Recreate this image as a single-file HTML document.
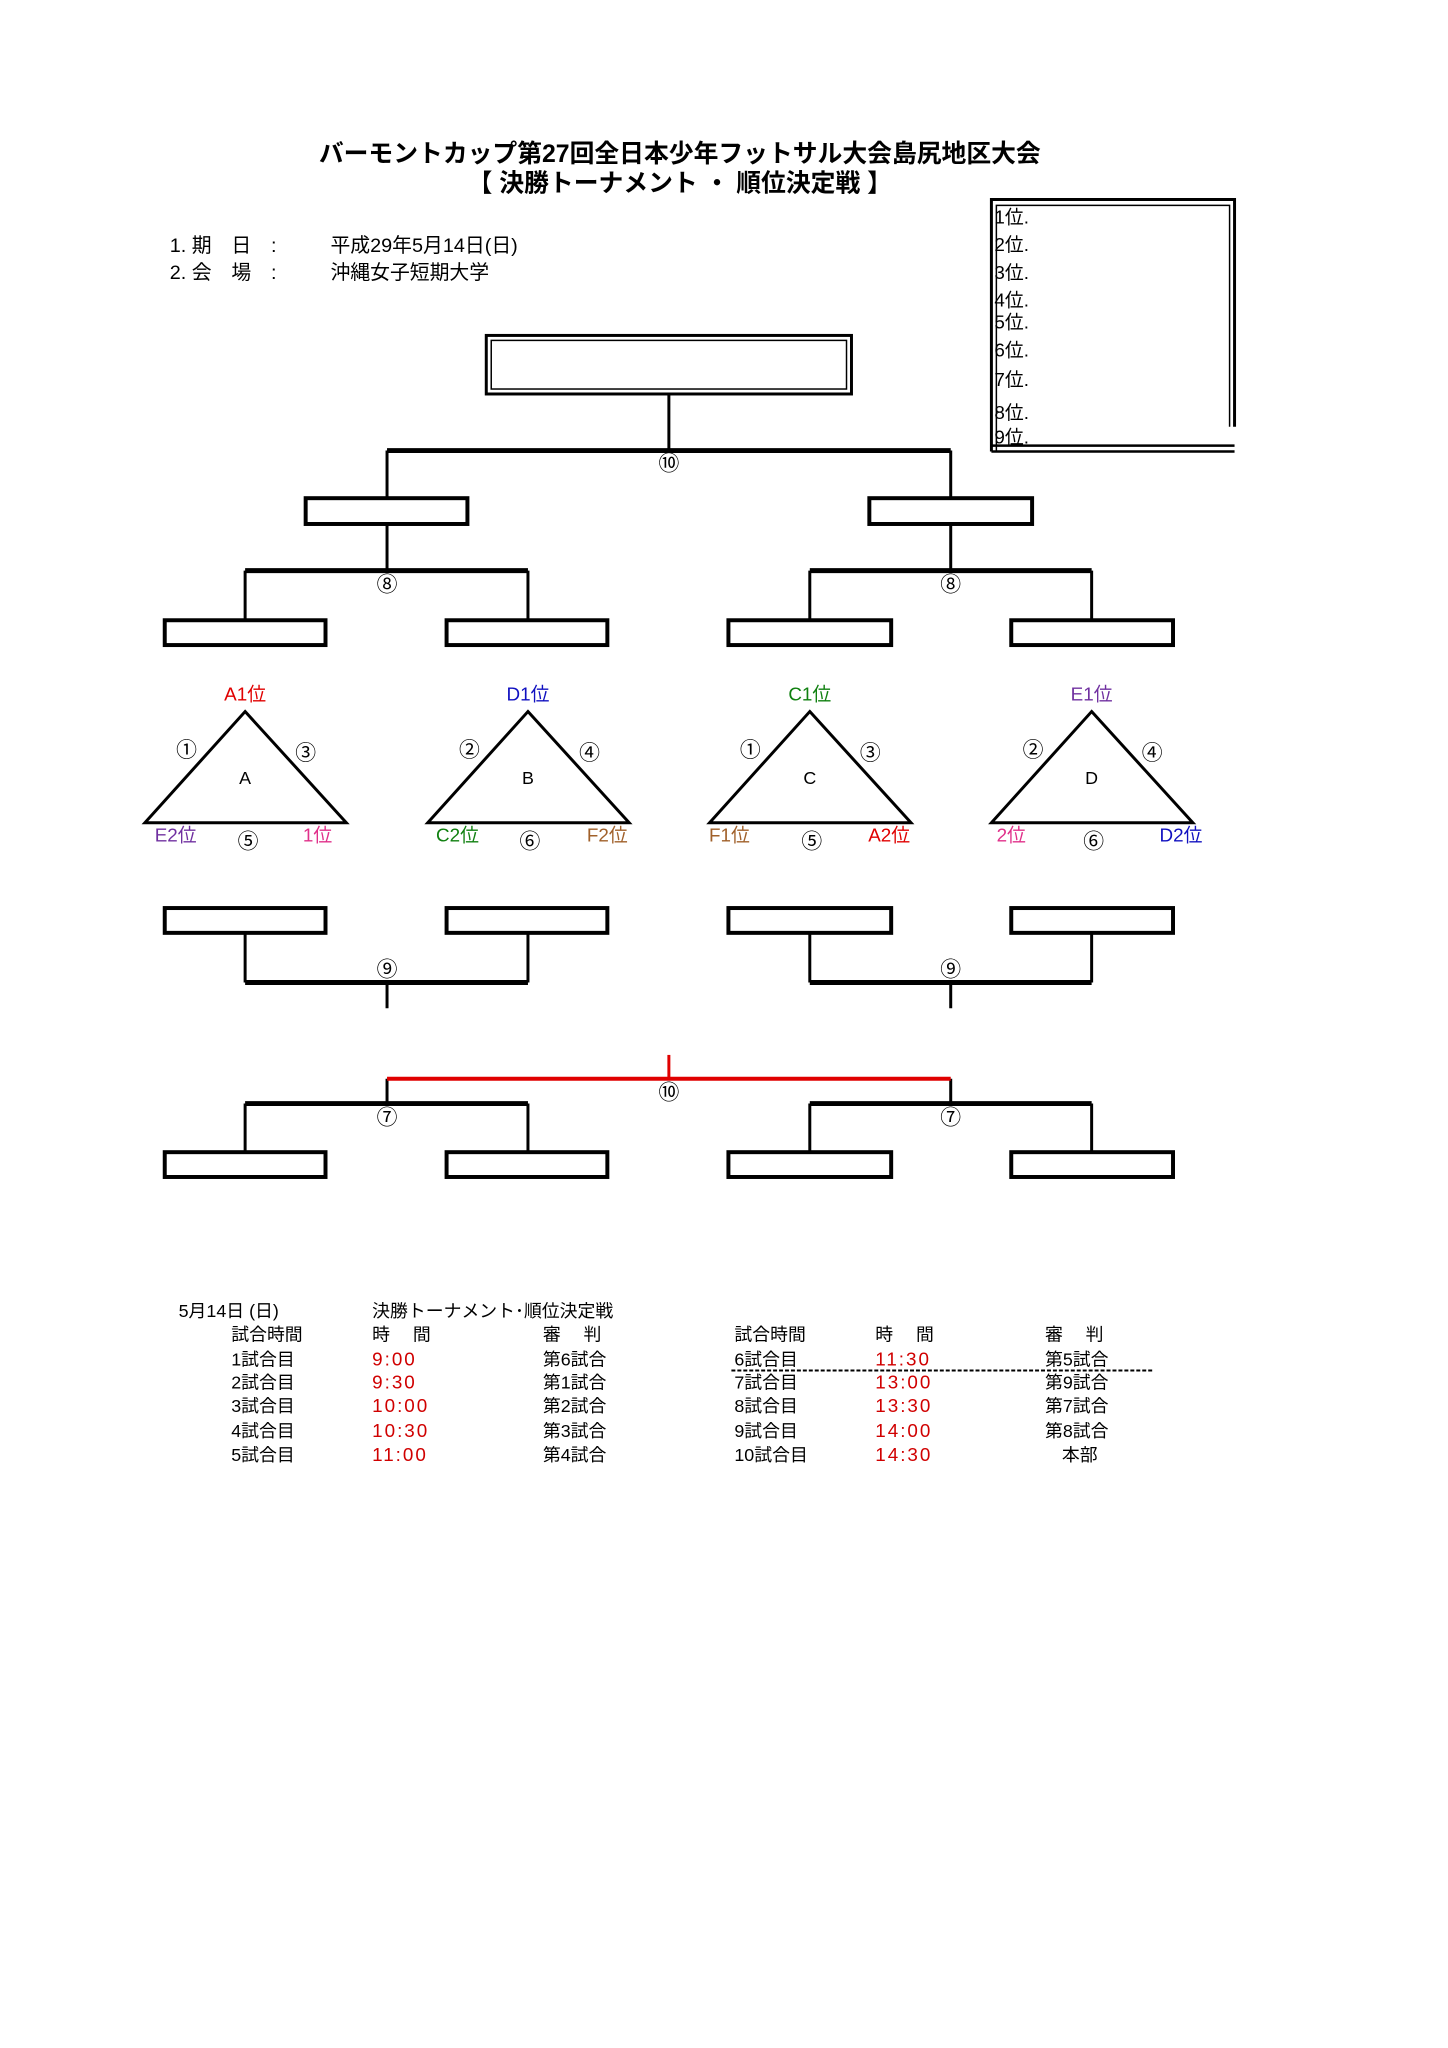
<!DOCTYPE html>
<html><head><meta charset="utf-8"><style>
html,body{margin:0;padding:0;background:#fff;}
svg{display:block;}
text{font-family:"Liberation Sans","Noto Sans CJK JP",sans-serif;}
</style></head><body>
<svg width="1448" height="2048" viewBox="0 0 1448 2048" xmlns="http://www.w3.org/2000/svg">
<g transform="scale(0.9924)">
<g font-size="25" text-anchor="middle" fill="#000" font-weight="bold">
<text x="685" y="163">バーモントカップ第27回全日本少年フットサル大会島尻地区大会</text>
<text x="685" y="193">【 決勝トーナメント ・ 順位決定戦 】</text>
</g>
<g font-size="20" fill="#000">
<text x="171" y="254">1. 期　日　:</text>
<text x="333" y="254">平成29年5月14日(日)</text>
<text x="171" y="281">2. 会　場　:</text>
<text x="333" y="281">沖縄女子短期大学</text>
</g>
<g fill="none" stroke="#000">
<path d="M999 455 V201 H1244 V430" stroke-width="3"/>
<path d="M1004 455 V207 H1239 V430" stroke-width="1.5"/>
<path d="M999 449 H1244 M999 455 H1244" stroke-width="2.5"/>
</g>
<g font-size="19" fill="#000">
<text x="1002" y="225">1位.</text><text x="1002" y="253">2位.</text><text x="1002" y="281">3位.</text>
<text x="1002" y="309">4位.</text><text x="1002" y="331">5位.</text><text x="1002" y="359">6位.</text>
<text x="1002" y="389">7位.</text><text x="1002" y="422">8位.</text><text x="1002" y="447">9位.</text>
</g>
<rect x="490" y="338" width="368" height="59" fill="none" stroke="#000" stroke-width="3"/>
<rect x="495" y="343" width="358" height="49" fill="none" stroke="#000" stroke-width="1.5"/>
<g fill="none" stroke="#000" stroke-width="3">
<path d="M674 397 V454"/>
<path d="M390 454 H958" stroke-width="5"/>
<path d="M390 454 V501 M958 454 V501"/>
<rect x="308" y="502" width="163" height="26" stroke-width="4"/>
<rect x="876" y="502" width="164" height="26" stroke-width="4"/>
<path d="M390 528 V575 M958 528 V575"/>
<path d="M247 575 H532 M816 575 H1100" stroke-width="5"/>
<path d="M247 575 V624 M532 575 V624 M816 575 V624 M1100 575 V624"/>
<rect x="166" y="625" width="162" height="25" stroke-width="4"/>
<rect x="450" y="625" width="162" height="25" stroke-width="4"/>
<rect x="734" y="625" width="164" height="25" stroke-width="4"/>
<rect x="1019" y="625" width="163" height="25" stroke-width="4"/>
<path d="M247 717 L349 829 H146 Z"/>
<path d="M532 717 L634 829 H431 Z"/>
<path d="M816 717 L918 829 H715 Z"/>
<path d="M1100 717 L1202 829 H999 Z"/>
<rect x="166" y="915" width="162" height="25" stroke-width="4"/>
<rect x="450" y="915" width="162" height="25" stroke-width="4"/>
<rect x="734" y="915" width="164" height="25" stroke-width="4"/>
<rect x="1019" y="915" width="163" height="25" stroke-width="4"/>
<path d="M247 940 V990 M532 940 V990 M816 940 V990 M1100 940 V990"/>
<path d="M247 990 H532 M816 990 H1100" stroke-width="5"/>
<path d="M390 990 V1016 M958 990 V1016"/>
<path d="M390 1087 V1112 M958 1087 V1112"/>
<path d="M247 1112 H532 M816 1112 H1100" stroke-width="5"/>
<path d="M247 1112 V1161 M532 1112 V1161 M816 1112 V1161 M1100 1112 V1161"/>
<rect x="166" y="1161" width="162" height="25" stroke-width="4"/>
<rect x="450" y="1161" width="162" height="25" stroke-width="4"/>
<rect x="734" y="1161" width="164" height="25" stroke-width="4"/>
<rect x="1019" y="1161" width="163" height="25" stroke-width="4"/>
</g>
<g stroke="#e00000" fill="none">
<path d="M674 1063 V1087" stroke-width="3"/>
<path d="M390 1087 H958" stroke-width="4"/>
</g>
<g font-size="21" text-anchor="middle" fill="#000">
<text x="674" y="474">⑩</text>
<text x="390" y="596">⑧</text><text x="958" y="596">⑧</text>
<text x="390" y="984">⑨</text><text x="958" y="984">⑨</text>
<text x="674" y="1108">⑩</text>
<text x="390" y="1133">⑦</text><text x="958" y="1133">⑦</text>
<text x="188" y="763">①</text><text x="308" y="766">③</text><text x="250" y="855">⑤</text><text x="247" y="790" font-size="18">A</text>
<text x="473" y="763">②</text><text x="594" y="766">④</text><text x="534" y="855">⑥</text><text x="532" y="790" font-size="18">B</text>
<text x="756" y="763">①</text><text x="877" y="766">③</text><text x="818" y="855">⑤</text><text x="816" y="790" font-size="18">C</text>
<text x="1041" y="763">②</text><text x="1161" y="766">④</text><text x="1102" y="855">⑥</text><text x="1100" y="790" font-size="18">D</text>
</g>
<g font-size="19" text-anchor="middle">
<text x="247" y="706" fill="#e00000">A1位</text>
<text x="532" y="706" fill="#1010c0">D1位</text>
<text x="816" y="706" fill="#108010">C1位</text>
<text x="1100" y="706" fill="#7030a0">E1位</text>
<text x="177" y="848" fill="#7030a0">E2位</text>
<text x="320" y="848" fill="#e0308a">1位</text>
<text x="461" y="848" fill="#108010">C2位</text>
<text x="612" y="848" fill="#a0602a">F2位</text>
<text x="735" y="848" fill="#a0602a">F1位</text>
<text x="896" y="848" fill="#e00000">A2位</text>
<text x="1019" y="848" fill="#e0308a">2位</text>
<text x="1190" y="848" fill="#1010c0">D2位</text>
</g>
<g font-size="18" fill="#000">
<text x="180" y="1327">5月14日 (日)</text>
<text x="375" y="1327">決勝トーナメント･順位決定戦</text>
<text x="233" y="1351">試合時間</text><text x="375" y="1351">時　 間</text><text x="547" y="1351">審　 判</text>
<text x="740" y="1351">試合時間</text><text x="882" y="1351">時　 間</text><text x="1053" y="1351">審　 判</text>
<text x="233" y="1376">1試合目</text><text x="547" y="1376">第6試合</text>
<text x="233" y="1399">2試合目</text><text x="547" y="1399">第1試合</text>
<text x="233" y="1423">3試合目</text><text x="547" y="1423">第2試合</text>
<text x="233" y="1448">4試合目</text><text x="547" y="1448">第3試合</text>
<text x="233" y="1472">5試合目</text><text x="547" y="1472">第4試合</text>
<text x="740" y="1376">6試合目</text><text x="1053" y="1376">第5試合</text>
<text x="740" y="1399">7試合目</text><text x="1053" y="1399">第9試合</text>
<text x="740" y="1423">8試合目</text><text x="1053" y="1423">第7試合</text>
<text x="740" y="1448">9試合目</text><text x="1053" y="1448">第8試合</text>
<text x="740" y="1472">10試合目</text><text x="1070" y="1472">本部</text>
</g>
<g font-size="19" fill="#d00000" letter-spacing="2">
<text x="375" y="1376">9:00</text><text x="375" y="1399">9:30</text><text x="375" y="1423">10:00</text>
<text x="375" y="1448">10:30</text><text x="375" y="1472">11:00</text>
<text x="882" y="1376">11:30</text><text x="882" y="1399">13:00</text><text x="882" y="1423">13:30</text>
<text x="882" y="1448">14:00</text><text x="882" y="1472">14:30</text>
</g>
<path d="M737 1381 H1163" stroke="#000" stroke-width="2" stroke-dasharray="4,2"/>
</g>
</svg>
</body></html>
